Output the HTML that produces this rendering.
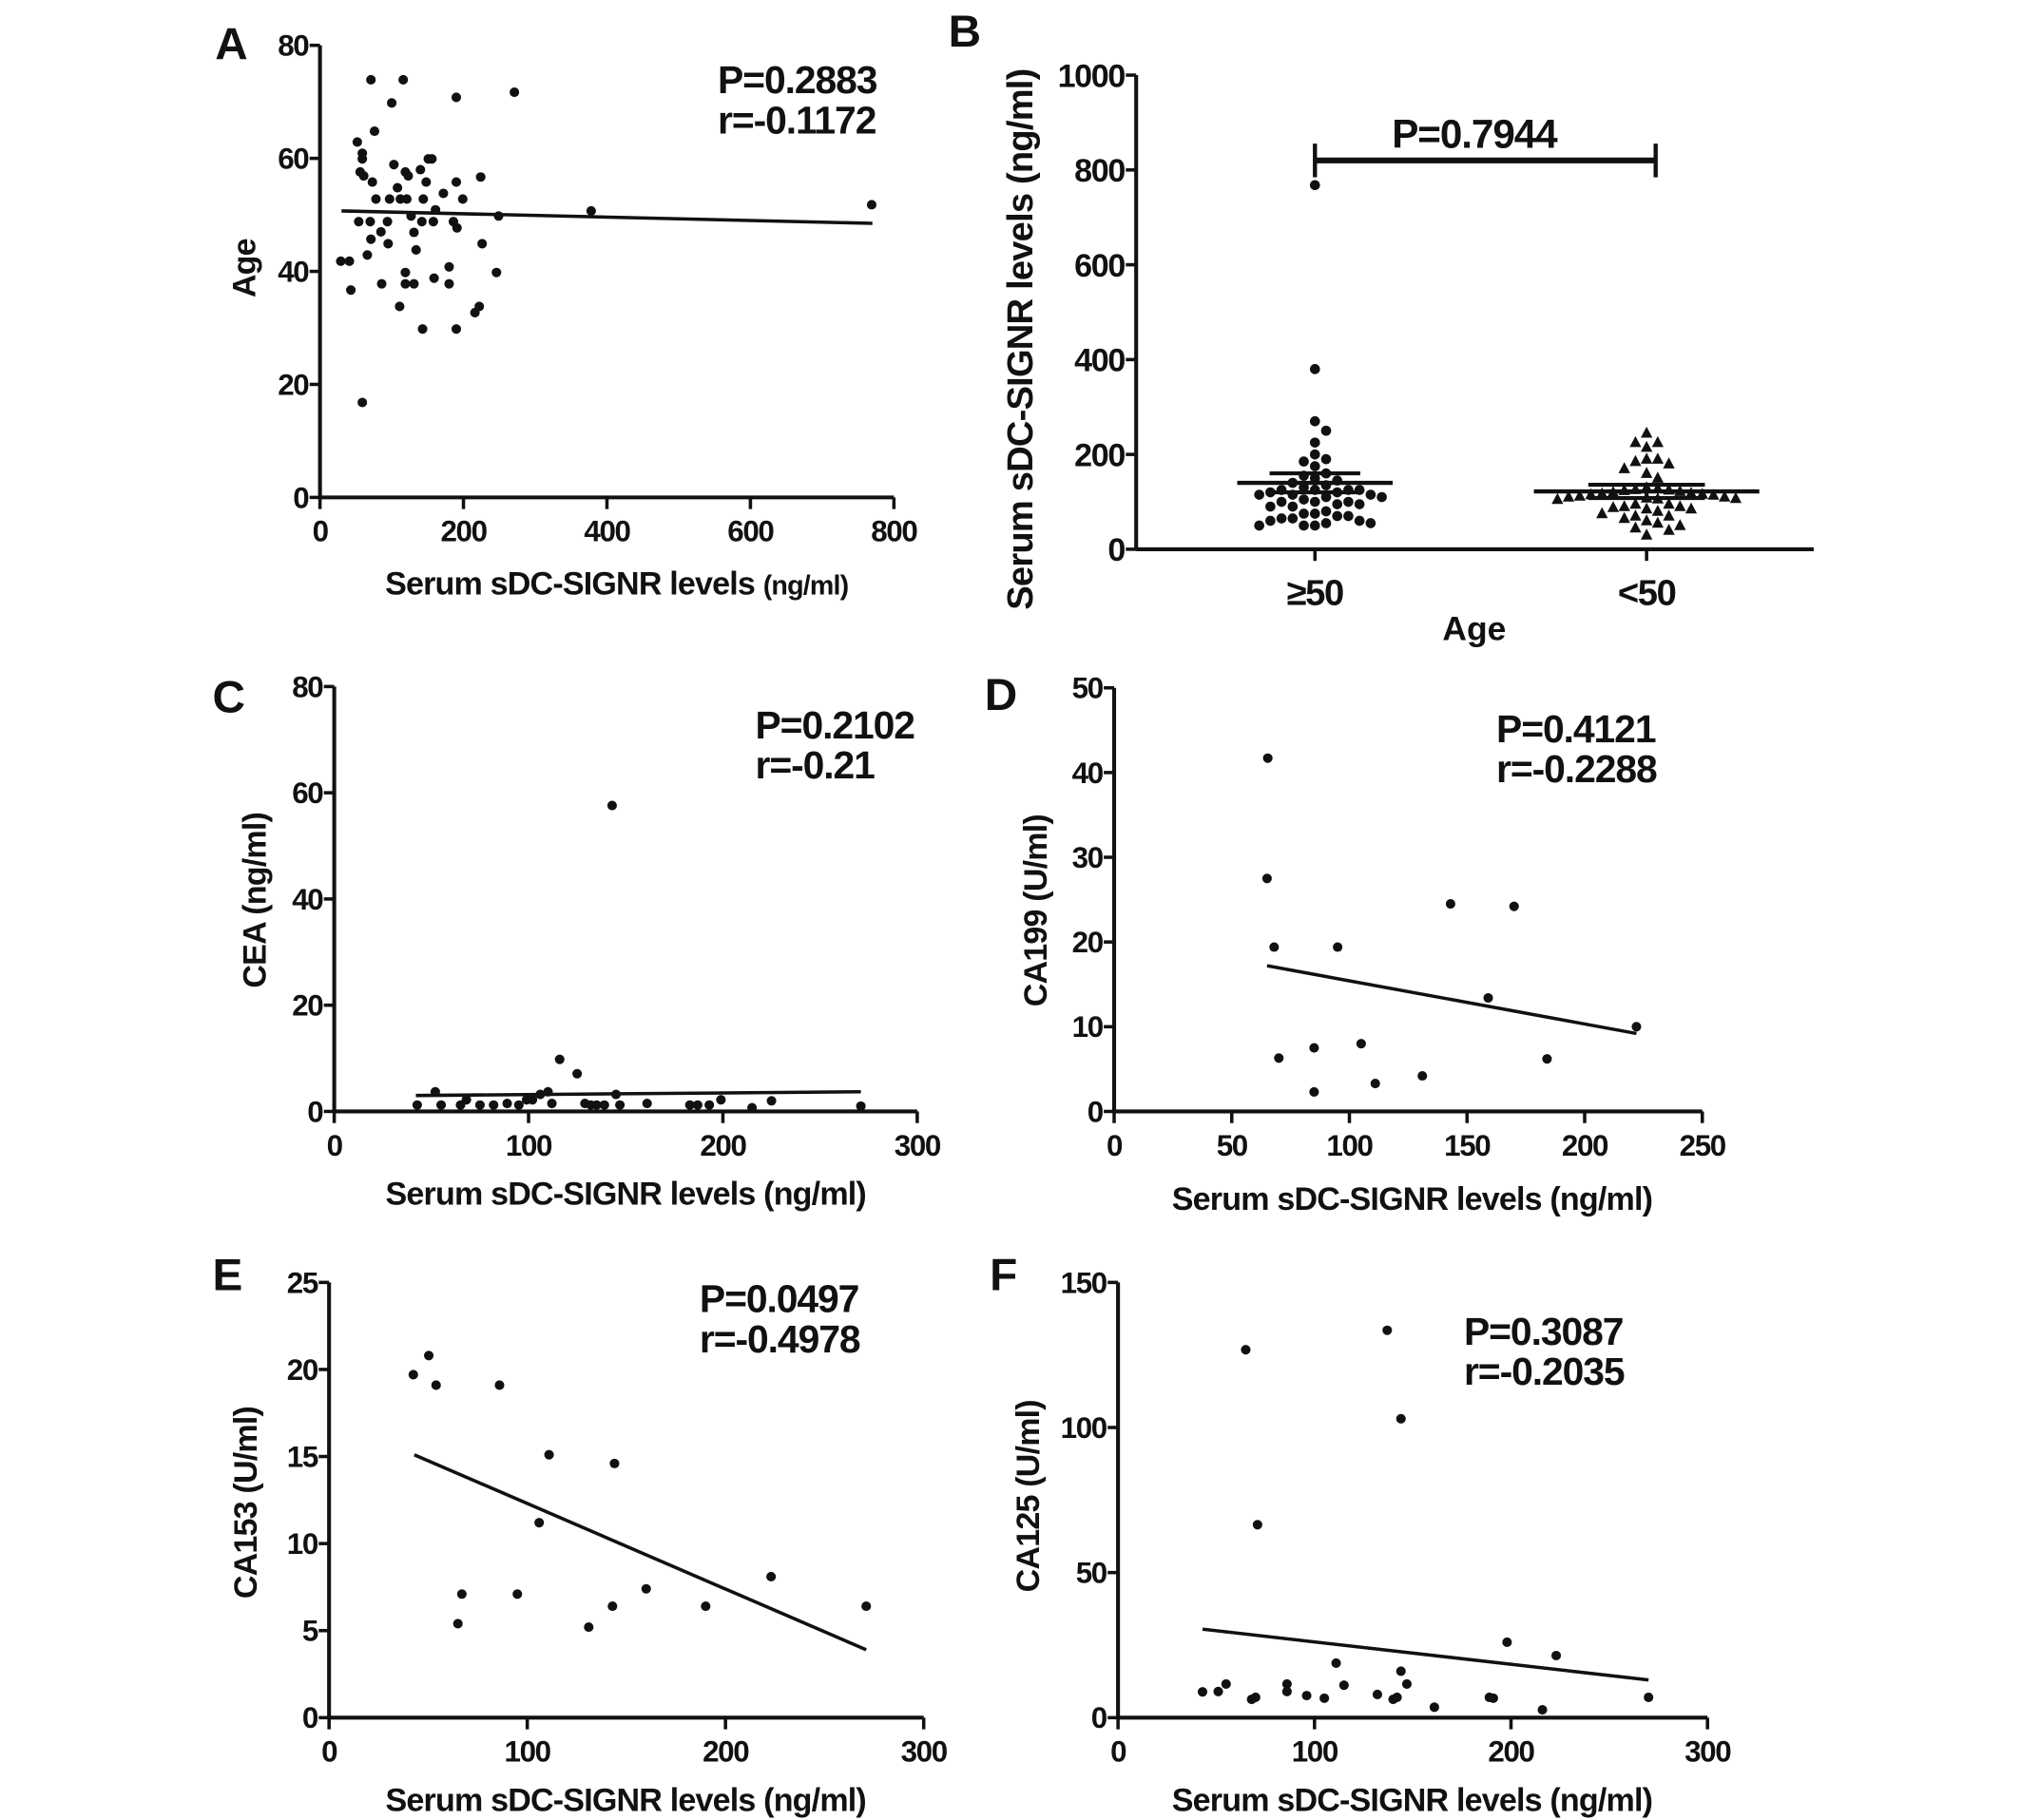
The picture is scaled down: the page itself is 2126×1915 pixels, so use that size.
<!DOCTYPE html>
<html><head><meta charset="utf-8">
<style>
html,body{margin:0;padding:0;background:#fff;}
svg{display:block;}
text{font-family:"Liberation Sans",Arial,sans-serif;font-weight:bold;fill:#111;}
</style></head>
<body>
<svg id="fig" width="2126" height="1915" viewBox="0 0 1560 1405" preserveAspectRatio="none" xmlns="http://www.w3.org/2000/svg"></svg>
<script>
// ---------- Data ----------
const aX=[71,116,100,190,271,76,52,59,59,56,61,73,103,119,123,140,148,151,156,190,224,172,199,78,97,108,112,121,144,161,249,378,769,54,70,85,94,127,142,158,186,191,131,71,95,134,226,66,29,41,119,180,246,159,86,119,131,180,43,111,216,222,143,190,59];
const aY=[73.9,73.9,69.8,70.8,71.7,64.8,62.9,60.9,59.9,57.6,56.9,55.8,58.9,57.6,56.9,58,55.8,59.9,59.9,55.8,56.7,53.8,52.8,52.8,52.8,54.8,52.8,52.8,52.8,50.9,49.8,50.7,51.8,48.8,48.8,47,48.8,49.8,48.8,48.8,48.8,47.7,46.9,45.7,44.9,43.8,44.9,42.9,41.8,41.8,39.8,40.8,39.8,38.8,37.8,37.8,37.8,37.8,36.7,33.8,32.7,33.8,29.8,29.8,16.8];
const aFit=[[30,50.7],[770,48.5]];

const bCategories=["≥50","<50"];
const bOld=[768,380,270,250,225,200,190,185,175,160,155,150,145,140,135,130,125,125,125,125,120,120,115,115,115,110,110,105,100,100,100,95,95,90,90,80,75,75,70,70,65,65,60,60,55,55,50,50,50];
const bYoung=[245,225,225,215,190,190,185,180,170,160,150,130,128,126,125,124,122,120,118,117,116,115,114,112,110,110,108,107,106,105,95,95,90,90,88,85,85,80,75,70,70,65,60,55,50,45,40,30];
const bMean=[140,122];
const bSem=[20,14];
const bP="P=0.7944";

const cX=[42.7,52,55,65,68,75,82,89,95,99,102,106,110,112,116,125,129,132,135,139,143,145,147,161,183,187,193,199,215,225,271];
const cY=[1.2,3.7,1.2,1.2,2.2,1.2,1.2,1.5,1.2,2.2,2.2,3.2,3.7,1.5,9.8,7.1,1.5,1.2,1.2,1.2,57.6,3.2,1.2,1.5,1.2,1.2,1.2,2.2,0.7,2,1];
const cFit=[[42,3.0],[271,3.7]];

const dX=[65.3,65,68,70,85,85,95,105,111,131,143,159,170,184,222];
const dY=[41.7,27.5,19.4,6.3,7.5,2.3,19.4,8,3.3,4.2,24.5,13.4,24.2,6.2,10];
const dFit=[[65,17.2],[222,9.2]];

const eX=[42.5,50.3,54,67,65,86,95,106,111,131,144,143,160,190,223,271];
const eY=[19.7,20.8,19.1,7.1,5.4,19.1,7.1,11.2,15.1,5.2,14.6,6.4,7.4,6.4,8.1,6.4];
const eFit=[[43,15.1],[271,3.9]];

const fX=[43,51,55,65,68,70,71,86,86,96,105,111,115,132,137,140,142,144,144,147,161,189,191,198,216,223,270];
const fY=[8.9,9,11.6,126.8,6.3,7,66.5,9,11.6,7.6,6.7,18.8,11.2,8,133.5,6.3,7,103,16,11.6,3.6,7,6.7,26,2.7,21.4,7];
const fFit=[[43,30.5],[270,13]];

const aXTicks=[0,200,400,600,800], aYTicks=[0,20,40,60,80];
const bYTicks=[0,200,400,600,800,1000];
const cXTicks=[0,100,200,300], cYTicks=[0,20,40,60,80];
const dXTicks=[0,50,100,150,200,250], dYTicks=[0,10,20,30,40,50];
const eXTicks=[0,100,200,300], eYTicks=[0,5,10,15,20,25];
const fXTicks=[0,100,200,300], fYTicks=[0,50,100,150];

// ---------- Drawing ----------
const NS="http://www.w3.org/2000/svg";
const svg=document.getElementById('fig');
function mk(tag,attrs,parent,txt){
  const e=document.createElementNS(NS,tag);
  for(const k in attrs) e.setAttribute(k,attrs[k]);
  if(txt!==undefined) e.textContent=txt;
  (parent||svg).appendChild(e);
  return e;
}
function lin(d0,d1,r0,r1){return v=>r0+(v-d0)/(d1-d0)*(r1-r0);}

function panel(cfg){
  const g=mk('g',{});
  
  
  const sx=lin(cfg.xd[0],cfg.xd[1],cfg.px[0],cfg.px[1]);
  const sy=lin(cfg.yd[0],cfg.yd[1],cfg.py[0],cfg.py[1]);
  const xa=mk('line',{x1:cfg.px[0],y1:cfg.py[0],x2:cfg.px[1],y2:cfg.py[0],stroke:'#111','stroke-width':3},g);
  
  
  const ya=mk('line',{x1:cfg.px[0],y1:cfg.py[0],x2:cfg.px[0],y2:cfg.py[1],stroke:'#111','stroke-width':3},g);
  
  
  cfg.xt.forEach(t=>{
    const x=sx(t);
    mk('line',{x1:x,y1:cfg.py[0],x2:x,y2:cfg.py[0]+9,stroke:'#111','stroke-width':2.6},g);
    const tl=mk('text',{x:x,y:cfg.py[0]+34,'text-anchor':'middle','font-size':23,'letter-spacing':-1},g,String(t));
    
    
  });
  cfg.yt.forEach(t=>{
    const y=sy(t);
    mk('line',{x1:cfg.px[0]-8,y1:y,x2:cfg.px[0],y2:y,stroke:'#111','stroke-width':2.6},g);
    const tl=mk('text',{x:cfg.px[0]-9,y:y+8,'text-anchor':'end','font-size':23,'letter-spacing':-1},g,String(t));
    
    
  });
  cfg.xs.forEach((v,i)=>{
    const c=mk('circle',{cx:sx(v),cy:sy(cfg.ys[i]),r:3.7,fill:'#111'},g);
    
    
  });
  const f=cfg.fit;
  const fl=mk('line',{x1:sx(f[0][0]),y1:sy(f[0][1]),x2:sx(f[1][0]),y2:sy(f[1][1]),stroke:'#111','stroke-width':2.6},g);
  
  
  const L=mk('text',{x:cfg.letter[0],y:cfg.letter[1],'font-size':35},g,cfg.id);
  
  
  const xt=mk('text',{x:cfg.xtitle[0],y:cfg.xtitle[1],'text-anchor':'middle','font-size':25,'letter-spacing':-0.6},g);
  
  
  xt.textContent='Serum sDC-SIGNR levels ';
  mk('tspan',{'font-size':cfg.smallUnit?21:25},xt,'(ng/ml)');
  const yt=mk('text',{x:cfg.ytitle[0],y:cfg.ytitle[1],'text-anchor':'middle','font-size':25,'letter-spacing':-0.6,transform:`rotate(-90 ${cfg.ytitle[0]} ${cfg.ytitle[1]})`},g,cfg.ylabel);
  
  
  const p=mk('text',{x:cfg.stat[0],y:cfg.stat[1],'font-size':30,'letter-spacing':-0.8},g,cfg.p);
  
  
  const r=mk('text',{x:cfg.stat[0],y:cfg.stat[1]+31,'font-size':30,'letter-spacing':-0.8},g,cfg.r);
  
  
}

panel({id:'A',xd:[0,800],yd:[0,80],px:[247,690],py:[384,35],xt:aXTicks,yt:aYTicks,xs:aX,ys:aY,fit:aFit,
  letter:[166,46],xtitle:[476,459],smallUnit:true,ytitle:[197,207],ylabel:'Age',stat:[554,72],p:'P=0.2883',r:'r=-0.1172'});
panel({id:'C',xd:[0,300],yd:[0,80],px:[258,708],py:[858,530],xt:cXTicks,yt:cYTicks,xs:cX,ys:cY,fit:cFit,
  letter:[164,550],xtitle:[483,930],ytitle:[205,695],ylabel:'CEA (ng/ml)',stat:[583,570],p:'P=0.2102',r:'r=-0.21'});
panel({id:'D',xd:[0,250],yd:[0,50],px:[860,1314],py:[858,531],xt:dXTicks,yt:dYTicks,xs:dX,ys:dY,fit:dFit,
  letter:[760,548],xtitle:[1090,934],ytitle:[808,703],ylabel:'CA199  (U/ml)',stat:[1155,573],p:'P=0.4121',r:'r=-0.2288'});
panel({id:'E',xd:[0,300],yd:[0,25],px:[254,713],py:[1326,990],xt:eXTicks,yt:eYTicks,xs:eX,ys:eY,fit:eFit,
  letter:[164,996],xtitle:[483,1398],ytitle:[198,1160],ylabel:'CA153 (U/ml)',stat:[540,1013],p:'P=0.0497',r:'r=-0.4978'});
panel({id:'F',xd:[0,300],yd:[0,150],px:[863,1318],py:[1326,990],xt:fXTicks,yt:fYTicks,xs:fX,ys:fY,fit:fFit,
  letter:[764,996],xtitle:[1090,1398],ytitle:[802,1155],ylabel:'CA125 (U/ml)',stat:[1130,1038],p:'P=0.3087',r:'r=-0.2035'});

// ---------- Panel B ----------
(function(){
  const g=mk('g',{});
  
  
  const x0=877,xEnd=1400,y0=424,yTop=58;
  const sy=lin(0,1000,y0,yTop);
  const cx=[1015,1271];
  const xa=mk('line',{x1:x0,y1:y0,x2:xEnd,y2:y0,stroke:'#111','stroke-width':3},g);
  
  
  const ya=mk('line',{x1:x0,y1:y0,x2:x0,y2:yTop,stroke:'#111','stroke-width':3},g);
  
  
  bYTicks.forEach(t=>{
    const y=sy(t);
    mk('line',{x1:x0-8,y1:y,x2:x0,y2:y,stroke:'#111','stroke-width':2.6},g);
    const tl=mk('text',{x:x0-9,y:y+9,'text-anchor':'end','font-size':25,'letter-spacing':-1},g,String(t));
    
    
  });
  bCategories.forEach((c,i)=>{
    mk('line',{x1:cx[i],y1:y0,x2:cx[i],y2:y0+9,stroke:'#111','stroke-width':2.6},g);
    const tl=mk('text',{x:cx[i],y:y0+43,'text-anchor':'middle','font-size':28,'letter-spacing':-1},g,c);
    
    
  });
  function swarm(vals,center,marker){
    const placed=[];
    const sorted=vals.slice().sort((a,b)=>b-a);
    sorted.forEach(v=>{
      const y=sy(v);
      let x=center;
      for(let n=0;n<60;n++){
        const off=(n===0)?0:(Math.ceil(n/2)*(n%2?1:-1))*8.6;
        x=center+off;
        if(!placed.some(p=>Math.hypot(p[0]-x,p[1]-y)<7.8)) break;
      }
      placed.push([x,y]);
      let m;
      if(marker==='c') m=mk('circle',{cx:x,cy:y,r:3.9,fill:'#111'},g);
      else m=mk('polygon',{points:`${x},${y-5} ${x-4.5},${y+3.5} ${x+4.5},${y+3.5}`,fill:'#111'},g);
      
      
    });
  }
  swarm(bOld,cx[0],'c');
  swarm(bYoung,cx[1],'t');
  const mw=[60,87], sw=[35,45];
  bMean.forEach((m,i)=>{
    const ml=mk('line',{x1:cx[i]-mw[i],y1:sy(m),x2:cx[i]+mw[i],y2:sy(m),stroke:'#111','stroke-width':3.2},g);
    
    
    const hi=sy(m+bSem[i]),lo=sy(m-bSem[i]);
    mk('line',{x1:cx[i],y1:hi,x2:cx[i],y2:lo,stroke:'#111','stroke-width':3},g);
    mk('line',{x1:cx[i]-sw[i],y1:hi,x2:cx[i]+sw[i],y2:hi,stroke:'#111','stroke-width':3},g);
    mk('line',{x1:cx[i]-sw[i],y1:lo,x2:cx[i]+sw[i],y2:lo,stroke:'#111','stroke-width':3},g);
  });
  const by=sy(820);
  const sb=mk('g',{},g);
  
  
  mk('line',{x1:cx[0],y1:by,x2:cx[1]+7,y2:by,stroke:'#111','stroke-width':4.5},sb);
  mk('line',{x1:cx[0],y1:by-13,x2:cx[0],y2:by+13,stroke:'#111','stroke-width':3.2},sb);
  mk('line',{x1:cx[1]+7,y1:by-13,x2:cx[1]+7,y2:by+13,stroke:'#111','stroke-width':3.2},sb);
  const pt=mk('text',{x:1138,y:114,'text-anchor':'middle','font-size':31,'letter-spacing':-0.8},g,bP);
  
  
  const L=mk('text',{x:732,y:36,'font-size':35},g,'B');
  
  
  const xt=mk('text',{x:1138,y:494,'text-anchor':'middle','font-size':26},g,'Age');
  
  
  const yt=mk('text',{x:797,y:262,'text-anchor':'middle','font-size':28,'letter-spacing':-0.6,transform:'rotate(-90 797 262)'},g,'Serum sDC-SIGNR levels (ng/ml)');
  
  
})();
</script>
</body></html>
